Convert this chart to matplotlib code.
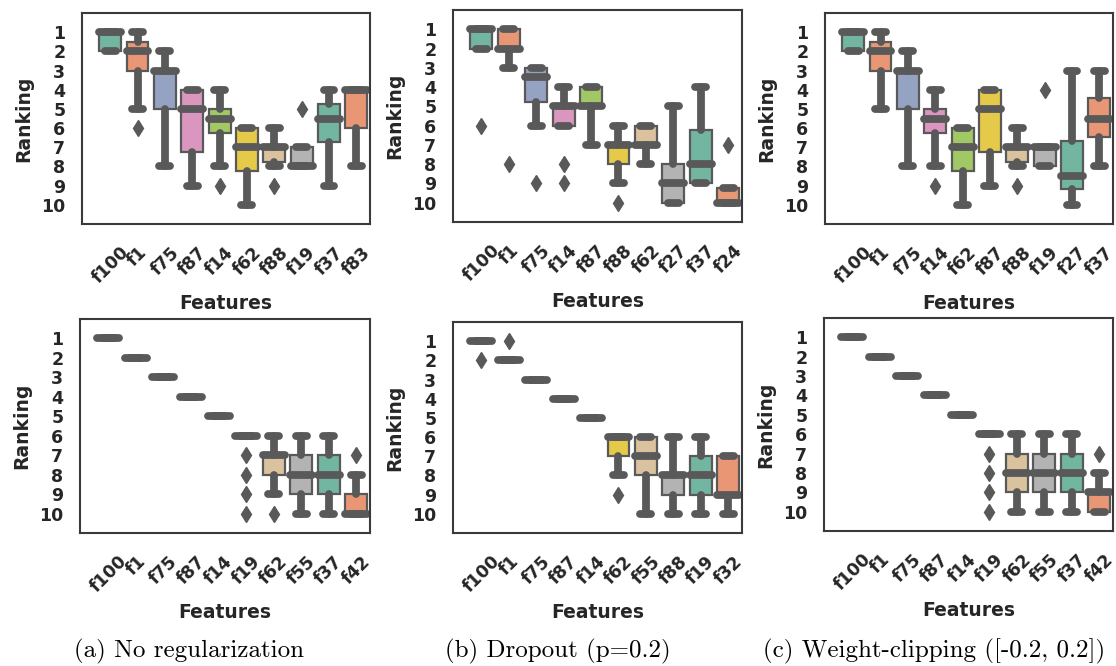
import colorsys
import matplotlib
matplotlib.use("Agg")
import matplotlib.pyplot as plt
import matplotlib.colors as mcolors

# ---------------- data (box statistics) ----------------
# Row 1, (a) No regularization
a1_features = ["f100", "f1", "f75", "f87", "f14", "f62", "f88", "f19", "f37", "f83"]
a1_whislo = [1, 1, 2, 4, 4, 6, 6, 7, 4, 4]
a1_q1 = [1, 1.5, 3, 4, 5, 6, 7, 7, 4.75, 4]
a1_med = [1, 2, 3, 5, 5.5, 7, 7, 8, 5.5, 4]
a1_q3 = [2, 3, 5, 7.25, 6.25, 8.25, 7.75, 8, 6.75, 6]
a1_whishi = [2, 5, 8, 9, 8, 10, 8, 8, 9, 8]
a1_fliers = [[], [6], [], [], [9], [], [9], [5], [], []]

# Row 1, (b) Dropout
b1_features = ["f100", "f1", "f75", "f14", "f87", "f88", "f62", "f27", "f37", "f24"]
b1_whislo = [1, 1, 3, 4, 4, 6, 6, 5, 4, 9.25]
b1_q1 = [1, 1, 3, 5, 4, 7, 6, 8, 6.25, 9.25]
b1_med = [1, 2, 3.5, 5, 5, 7, 7, 9, 8, 10]
b1_q3 = [2, 2, 4.75, 6, 5, 8, 7, 10, 9, 10]
b1_whishi = [2, 3, 6, 6, 7, 9, 8, 10, 9, 10]
b1_fliers = [[6], [8], [9], [8, 9], [], [10], [], [], [], [7]]

# Row 1, (c) Weight-clipping
c1_features = ["f100", "f1", "f75", "f14", "f62", "f87", "f88", "f19", "f27", "f37"]
c1_whislo = [1, 1, 2, 4, 6, 4, 6, 7, 3, 3]
c1_q1 = [1, 1.5, 3, 5, 6, 4, 7, 7, 6.65, 4.45]
c1_med = [1, 2, 3, 5.5, 7, 5, 7, 7, 8.5, 5.5]
c1_q3 = [2, 3, 5, 6.25, 8.25, 7.25, 7.75, 8, 9.17, 6.45]
c1_whishi = [2, 5, 8, 8, 10, 9, 8, 8, 10, 8]
c1_fliers = [[], [], [], [9], [], [], [9], [4], [], []]

# Row 2, (a) No regularization
a2_features = ["f100", "f1", "f75", "f87", "f14", "f19", "f62", "f55", "f37", "f42"]
a2_whislo = [1, 2, 3, 4, 5, 6, 6, 6, 6, 8]
a2_q1 = [1, 2, 3, 4, 5, 6, 7, 7, 7, 9]
a2_med = [1, 2, 3, 4, 5, 6, 7, 8, 8, 10]
a2_q3 = [1, 2, 3, 4, 5, 6, 8, 9, 9, 10]
a2_whishi = [1, 2, 3, 4, 5, 6, 9, 10, 10, 10]
a2_fliers = [[], [], [], [], [], [7, 8, 9, 10], [10], [], [], [7]]

# Row 2, (b) Dropout
b2_features = ["f100", "f1", "f75", "f87", "f14", "f62", "f55", "f88", "f19", "f32"]
b2_whislo = [1, 2, 3, 4, 5, 6, 6, 6, 6, 7]
b2_q1 = [1, 2, 3, 4, 5, 6, 6, 8, 7, 7]
b2_med = [1, 2, 3, 4, 5, 6, 7, 8, 8, 9]
b2_q3 = [1, 2, 3, 4, 5, 7, 8, 9, 9, 9]
b2_whishi = [1, 2, 3, 4, 5, 8, 10, 10, 10, 10]
b2_fliers = [[2], [1], [], [], [], [9], [], [], [], []]

# Row 2, (c) Weight-clipping
c2_features = ["f100", "f1", "f75", "f87", "f14", "f19", "f62", "f55", "f37", "f42"]
c2_whislo = [1, 2, 3, 4, 5, 6, 6, 6, 6, 8]
c2_q1 = [1, 2, 3, 4, 5, 6, 7, 7, 7, 9]
c2_med = [1, 2, 3, 4, 5, 6, 8, 8, 8, 9]
c2_q3 = [1, 2, 3, 4, 5, 6, 9, 9, 9, 10]
c2_whishi = [1, 2, 3, 4, 5, 6, 10, 10, 10, 10]
c2_fliers = [[], [], [], [], [], [7, 8, 9, 10], [], [], [], [7]]

rank_ticks = [1, 2, 3, 4, 5, 6, 7, 8, 9, 10]
captions = ["(a) No regularization", "(b) Dropout (p=0.2)",
            "(c) Weight-clipping ([-0.2, 0.2])"]
x_label = "Features"
y_label = "Ranking"

# ---------------- styling ----------------
W, H = 1116, 666
set2 = ["#66c2a5", "#fc8d62", "#8da0cb", "#e78ac3",
        "#a6d854", "#ffd92f", "#e5c494", "#b3b3b3"]


def desaturate(c, prop=0.75):
    r, g, b = mcolors.to_rgb(c)
    h, l, s = colorsys.rgb_to_hls(r, g, b)
    return colorsys.hls_to_rgb(h, l, s * prop)


pal = [desaturate(c) for c in set2]
gray = "#595959"
text_col = "#262626"
LW = 5.6

# axes boxes in pixels: left, right, top, bottom
boxes_px = [
    (82, 370, 13, 224), (453, 742, 10, 222), (825, 1113, 13, 224),
    (80, 370, 319, 533), (453, 742, 322, 533), (824, 1113, 318, 531),
]

panels = [
    (a1_features, a1_whislo, a1_q1, a1_med, a1_q3, a1_whishi, a1_fliers),
    (b1_features, b1_whislo, b1_q1, b1_med, b1_q3, b1_whishi, b1_fliers),
    (c1_features, c1_whislo, c1_q1, c1_med, c1_q3, c1_whishi, c1_fliers),
    (a2_features, a2_whislo, a2_q1, a2_med, a2_q3, a2_whishi, a2_fliers),
    (b2_features, b2_whislo, b2_q1, b2_med, b2_q3, b2_whishi, b2_fliers),
    (c2_features, c2_whislo, c2_q1, c2_med, c2_q3, c2_whishi, c2_fliers),
]

fig = plt.figure(figsize=(W / 100, H / 100), dpi=100)

for (feats, lo, q1, med, q3, hi, fl), (l, r, t, b) in zip(panels, boxes_px):
    ax = fig.add_axes([l / W, 1 - b / H, (r - l) / W, (b - t) / H])
    stats = [dict(label=f, whislo=lo[i], q1=q1[i], med=med[i], q3=q3[i],
                  whishi=hi[i], fliers=fl[i]) for i, f in enumerate(feats)]
    art = ax.bxp(stats, positions=list(range(len(feats))), widths=0.8,
                 patch_artist=True, showfliers=True,
                 boxprops=dict(edgecolor=gray, linewidth=1.6),
                 whiskerprops=dict(color=gray, linewidth=LW,
                                   solid_capstyle="round"),
                 capprops=dict(color=gray, linewidth=LW,
                               solid_capstyle="round"),
                 medianprops=dict(color=gray, linewidth=LW,
                                  solid_capstyle="round"),
                 flierprops=dict(marker="d", markerfacecolor=gray,
                                 markeredgecolor=gray, markersize=8.5,
                                 linestyle="none"))
    for i, patch in enumerate(art["boxes"]):
        patch.set_facecolor(pal[i % len(pal)])
    ax.set_xlim(-1.03, 9.5)
    ax.set_ylim(11, 0)
    ax.set_yticks(rank_ticks)
    ax.set_yticklabels([str(v) for v in rank_ticks])
    ax.set_xticks(list(range(len(feats))))
    ax.set_xticklabels(feats, rotation=45)
    ax.tick_params(axis="both", length=0, labelsize=12.5, labelcolor=text_col)
    ax.tick_params(axis="y", pad=12)
    ax.tick_params(axis="x", pad=14)
    for lab in ax.get_xticklabels() + ax.get_yticklabels():
        lab.set_fontweight("bold")
    for sp in ax.spines.values():
        sp.set_color("#3a3a3a")
        sp.set_linewidth(1.5)
    ax.set_xlabel(x_label, fontsize=13.5, fontweight="bold", color=text_col)
    ax.set_ylabel(y_label, fontsize=13.5, fontweight="bold", color=text_col)
    wpx, hpx = r - l, b - t
    ax.xaxis.set_label_coords(0.5, -70 / hpx)
    ax.yaxis.set_label_coords(-49 / wpx, 0.5)

cap_x = [189, 558, 934]
for cx, txt in zip(cap_x, captions):
    fig.text(cx / W, 1 - 651 / H, txt, ha="center", va="center",
             fontsize=18, family="cmr10", color="black")

fig.savefig("out.png", dpi=100)
